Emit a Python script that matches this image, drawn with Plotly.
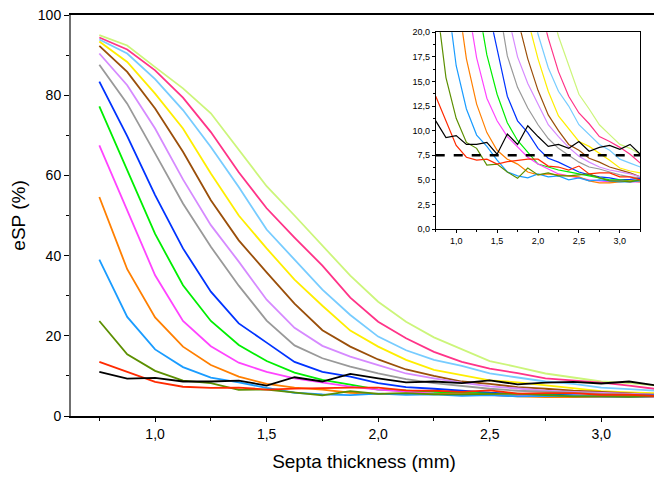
import plotly.graph_objects as go

thickness = [0.75, 0.875, 1.0, 1.125, 1.25, 1.375, 1.5, 1.625, 1.75, 1.875, 2.0,
             2.125, 2.25, 2.375, 2.5, 2.625, 2.75, 2.875, 3.0, 3.125, 3.25]

s_black = [11.0, 9.3, 9.5, 8.6, 8.6, 8.8, 7.6, 9.66, 8.6, 10.5, 9.4, 8.4, 8.6, 8.2, 8.9, 7.9, 8.3, 8.5, 8.1, 8.6, 7.6]
s_red = [13.5, 11.0, 8.5, 7.3, 7.0, 7.1, 6.6, 6.85, 7.0, 7.1, 7.1, 6.4, 6.3, 6.0, 6.4, 5.6, 5.7, 5.7, 5.3, 5.3, 5.0]
s_olive = [23.7, 15.4, 11.25, 8.8, 8.2, 6.5, 6.6, 5.8, 5.15, 6.2, 5.5, 5.7, 5.4, 5.4, 5.5, 5.6, 5.2, 4.9, 4.9, 4.8, 5.0]
s_lightblue = [39.0, 24.7, 16.6, 12.2, 9.55, 8.4, 7.0, 5.8, 5.4, 5.2, 5.6, 5.3, 5.4, 5.0, 5.2, 4.9, 5.0, 4.9, 4.8, 4.8, 4.9]
s_orange = [54.6, 36.6, 24.6, 17.3, 12.7, 9.8, 8.0, 7.1, 6.6, 5.8, 5.5, 5.6, 5.5, 5.4, 5.3, 4.9, 4.7, 4.7, 4.8, 4.9, 4.8]
s_magenta = [67.5, 51.5, 35.1, 23.7, 17.4, 13.3, 11.0, 9.4, 8.3, 7.3, 6.6, 6.1, 5.6, 5.4, 5.2, 5.0, 4.9, 4.8, 4.9, 4.8, 4.8]
s_green = [77.2, 61.3, 45.4, 32.6, 23.7, 17.7, 13.7, 10.8, 9.0, 7.8, 6.6, 6.3, 6.0, 5.8, 5.6, 5.4, 5.2, 5.0, 5.0, 4.9, 5.0]
s_blue = [83.4, 69.8, 55.1, 41.8, 31.0, 23.1, 18.3, 13.5, 11.0, 9.8, 8.2, 7.2, 6.8, 6.3, 5.8, 5.5, 5.3, 5.2, 5.0, 5.05, 5.15]
s_gray = [87.6, 77.9, 65.5, 53.0, 42.2, 32.5, 23.8, 17.6, 14.4, 12.3, 10.6, 9.2, 8.2, 7.5, 6.8, 6.3, 6.1, 5.8, 5.5, 5.3, 5.2]
s_violet = [90.4, 82.5, 71.7, 59.0, 47.6, 38.5, 29.0, 22.0, 17.5, 14.8, 12.7, 10.6, 9.4, 8.3, 7.4, 6.8, 6.3, 6.0, 5.8, 5.6, 5.3]
s_brown = [92.3, 85.8, 76.7, 65.9, 53.8, 43.8, 35.8, 28.0, 21.4, 17.3, 14.1, 11.6, 10.0, 8.6, 8.0, 7.2, 6.8, 6.3, 6.0, 5.7, 5.3]
s_yellow = [93.4, 88.3, 80.4, 71.7, 60.5, 50.0, 41.8, 34.0, 27.5, 21.3, 17.3, 14.0, 11.5, 10.2, 8.9, 8.4, 7.7, 7.0, 6.2, 5.9, 5.7]
s_skyblue = [93.9, 90.4, 84.0, 76.3, 67.1, 57.1, 46.5, 39.0, 31.5, 25.2, 19.8, 16.4, 14.0, 12.5, 10.6, 9.6, 8.6, 8.0, 7.1, 6.7, 6.3]
s_pink = [94.4, 91.4, 86.2, 79.4, 70.8, 60.8, 51.8, 44.5, 37.5, 29.5, 23.5, 19.4, 16.0, 13.5, 11.8, 10.7, 9.4, 8.9, 8.3, 7.6, 6.7]
s_lime = [95.0, 92.4, 87.0, 81.7, 75.5, 66.5, 57.3, 50.0, 42.5, 35.0, 28.5, 23.5, 19.6, 16.6, 13.7, 12.2, 10.6, 9.6, 8.6, 8.2, 7.6]

threshold_x = [0.75, 3.25]
threshold_y = [7.5, 7.5]

series = [
    (s_black, "#000000"),
    (s_red, "#ff2a00"),
    (s_olive, "#5c8f00"),
    (s_lightblue, "#1a9cff"),
    (s_orange, "#ff7f00"),
    (s_magenta, "#ff44ff"),
    (s_green, "#00ee00"),
    (s_blue, "#0033ff"),
    (s_gray, "#999999"),
    (s_violet, "#d68aff"),
    (s_brown, "#9a4f0a"),
    (s_yellow, "#ffee00"),
    (s_skyblue, "#77ccff"),
    (s_pink, "#ff3388"),
    (s_lime, "#ccf57a"),
]

fig = go.Figure()
for vals, col in reversed(series):
    fig.add_trace(go.Scatter(x=thickness, y=vals, mode="lines",
                             line=dict(color=col, width=1.8),
                             xaxis="x", yaxis="y", showlegend=False))
for vals, col in reversed(series):
    fig.add_trace(go.Scatter(x=thickness, y=vals, mode="lines",
                             line=dict(color=col, width=1.2),
                             xaxis="x2", yaxis="y2", showlegend=False))
fig.add_trace(go.Scatter(x=threshold_x, y=threshold_y, mode="lines",
                         line=dict(color="black", width=2.5, dash="dash"),
                         xaxis="x2", yaxis="y2", showlegend=False))

font_family = "Liberation Sans, Arial, sans-serif"

# page body adds an 8px offset; size the figure so it fits the 662x477 window
fig.update_layout(
    width=654, height=469,
    margin=dict(l=63, r=5, t=7, b=61, autoexpand=False),
    paper_bgcolor="white", plot_bgcolor="white",
    separators=",.",
    font=dict(family=font_family, color="black", size=14),
    xaxis=dict(
        range=[0.623, 3.25], domain=[0, 1], automargin=False,
        tick0=1.0, dtick=0.5, tickformat=".1f",
        ticks="outside", ticklen=4, tickcolor="black",
        minor=dict(dtick=0.25, tick0=0.75, ticks="outside", ticklen=3, tickcolor="black"),
        showline=True, linecolor="black", linewidth=1.5, mirror=True,
        showgrid=False, zeroline=False, ticklabeloverflow="allow",
        tickfont=dict(size=14),
        title=dict(text="Septa thickness (mm)", font=dict(size=19), standoff=14),
    ),
    yaxis=dict(
        range=[0, 100], domain=[0, 1], automargin=False,
        tick0=0, dtick=20,
        ticks="outside", ticklen=5, tickcolor="black",
        minor=dict(dtick=10, ticks="outside", ticklen=3, tickcolor="black"),
        showline=True, linecolor="#707070", linewidth=2, mirror=True,
        showgrid=False, zeroline=False, ticklabeloverflow="allow",
        tickfont=dict(size=14),
        title=dict(text="eSP (%)", font=dict(size=19), standoff=13),
    ),
    xaxis2=dict(
        range=[0.75, 3.25], domain=[0.6224, 0.9715], anchor="y2", automargin=False,
        tick0=1.0, dtick=0.5, tickformat=".1f",
        ticks="outside", ticklen=3, tickcolor="black",
        minor=dict(dtick=0.25, tick0=0.75, ticks="outside", ticklen=2, tickcolor="black"),
        showline=True, linecolor="black", linewidth=1, mirror=True,
        showgrid=False, zeroline=False, ticklabeloverflow="allow",
        tickfont=dict(size=9),
    ),
    yaxis2=dict(
        range=[0, 20], domain=[0.4663, 0.9569], anchor="x2", automargin=False,
        tick0=0, dtick=2.5, tickformat=".1f",
        ticks="outside", ticklen=3, tickcolor="black",
        minor=dict(dtick=1.25, ticks="outside", ticklen=2, tickcolor="black"),
        showline=True, linecolor="black", linewidth=1, mirror=True,
        showgrid=False, zeroline=False, ticklabeloverflow="allow",
        tickfont=dict(size=9),
    ),
)

fig.write_html("out.html")
